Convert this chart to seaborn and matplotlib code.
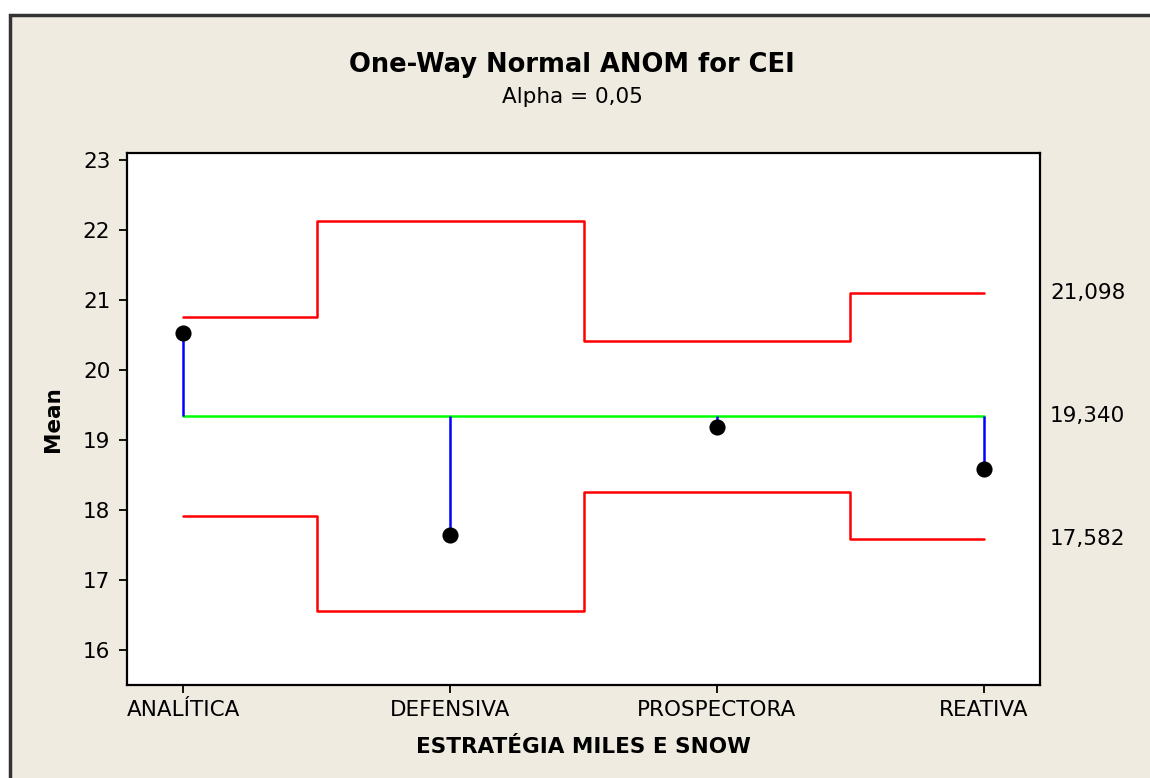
import matplotlib
matplotlib.use("Agg")
import matplotlib.pyplot as plt
from matplotlib.patches import Rectangle
from matplotlib.transforms import blended_transform_factory
import seaborn as sns
import pandas as pd

categories = ["ANALÍTICA", "DEFENSIVA", "PROSPECTORA", "REATIVA"]
means = [20.53, 17.64, 19.19, 18.58]
center = 19.340
upper = [20.76, 22.13, 20.42, 21.098]
lower = [17.92, 16.55, 18.26, 17.582]
y_ticks = [16, 17, 18, 19, 20, 21, 22, 23]
right_labels = [21.098, 19.340, 17.582]

sns.set_style("ticks")
plt.rcParams["font.family"] = ["DejaVu Sans"]
plt.rcParams["text.color"] = "black"
plt.rcParams["axes.labelcolor"] = "black"
plt.rcParams["xtick.color"] = "black"
plt.rcParams["ytick.color"] = "black"

df = pd.DataFrame({"cat": categories, "mean": means, "upper": upper,
                   "lower": lower, "center": [center] * len(categories)})

W, H = 1150, 778
fig = plt.figure(figsize=(W / 100, H / 100), dpi=100, facecolor="white")
beige = "#EFEBE1"
fig.patches.append(Rectangle((10 / W, -0.02), 1.05, 1 - 15 / H + 0.02,
                             transform=fig.transFigure, facecolor=beige,
                             edgecolor="#333333", linewidth=2.5, zorder=-10))

ax = fig.add_axes([127 / W, 1 - 685 / H, 913 / W, 532 / H])
ax.set_facecolor("white")

lw = 1.8
sns.lineplot(data=df, x="cat", y="upper", ax=ax, color="#FF0000", lw=lw,
             drawstyle="steps-mid", sort=False, zorder=2)
sns.lineplot(data=df, x="cat", y="lower", ax=ax, color="#FF0000", lw=lw,
             drawstyle="steps-mid", sort=False, zorder=2)
sns.lineplot(data=df, x="cat", y="center", ax=ax, color="#00FF00", lw=lw,
             sort=False, zorder=3)
ax.vlines(df["cat"], center, df["mean"], color="#0000FF", lw=lw, zorder=3)
sns.scatterplot(data=df, x="cat", y="mean", ax=ax, color="black", s=135,
                edgecolor="black", linewidth=0, zorder=4)

ax.set_xlim(-0.21, 3.21)
ax.set_ylim(15.5, 23.1)
ax.set_yticks(y_ticks)
ax.set_yticklabels([str(t) for t in y_ticks])

for s in ax.spines.values():
    s.set_linewidth(1.6)
    s.set_color("black")
    s.set_visible(True)

ax.tick_params(axis="both", direction="out", length=6, width=1.3,
               labelsize=15.5, colors="black", pad=5)
ax.tick_params(axis="y", pad=6)

ax.set_xlabel("ESTRATÉGIA MILES E SNOW", fontsize=15.5, fontweight="bold")
ax.xaxis.set_label_coords(0.5, (685 - 753) / 532)
ax.xaxis.label.set_va("baseline")
ax.set_ylabel("Mean", fontsize=15.5, fontweight="bold")
ax.yaxis.set_label_coords((53 - 127) / 913, 0.5)
ax.yaxis.label.set_ha("center")
ax.yaxis.label.set_va("center")

tr = blended_transform_factory(ax.transAxes, ax.transData)
for v in right_labels:
    ax.text((1050 - 127) / 913, v, f"{v:.3f}".replace(".", ","), transform=tr,
            ha="left", va="center", fontsize=15.5, color="black", clip_on=False)

fig.text(572 / W, 1 - 72 / H, "One-Way Normal ANOM for CEI", ha="center",
         va="baseline", fontsize=18.5, fontweight="bold", color="black")
fig.text(572 / W, 1 - 103 / H, "Alpha = 0,05", ha="center", va="baseline",
         fontsize=15.5, color="black")

fig.savefig("out.png", dpi=100, facecolor="white")
